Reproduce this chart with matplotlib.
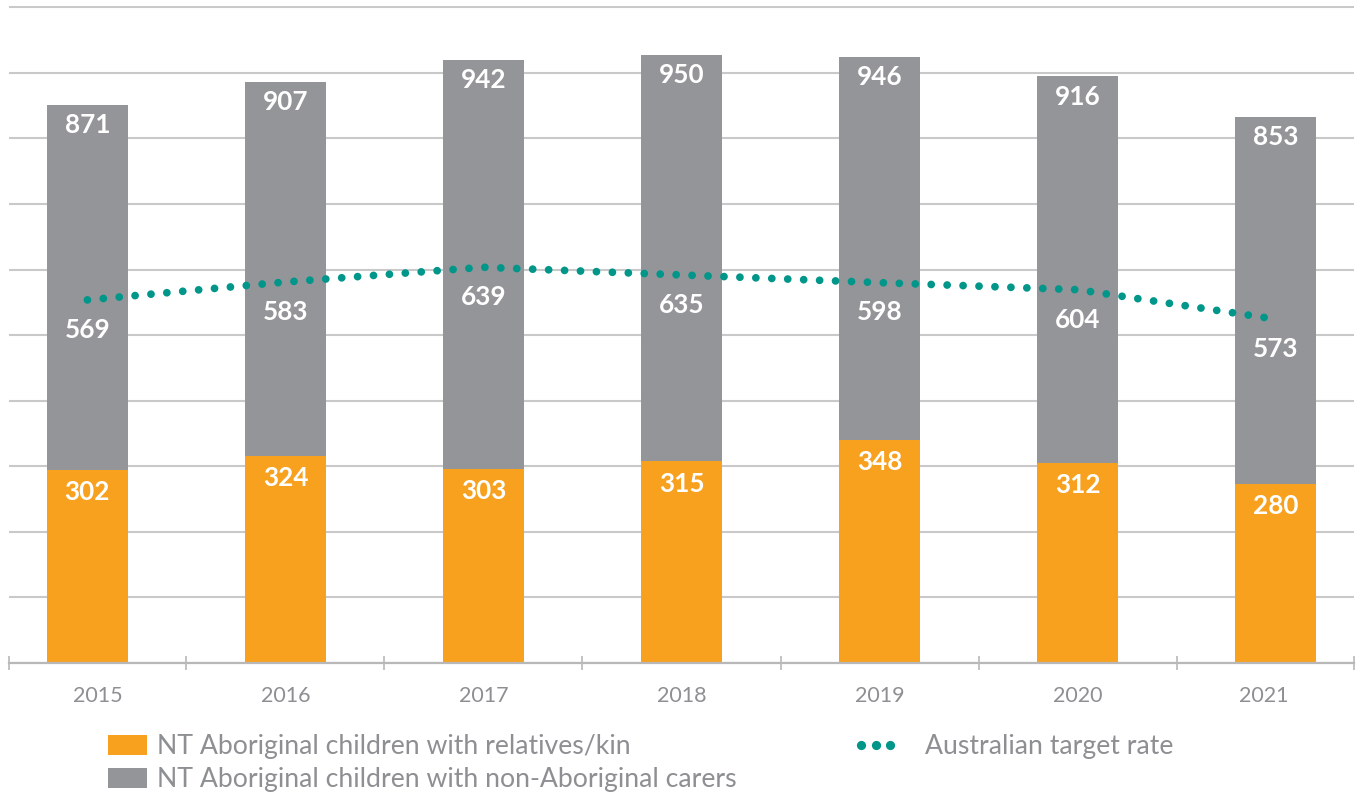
import matplotlib
matplotlib.use('Agg')
import matplotlib.pyplot as plt
from matplotlib.lines import Line2D
from matplotlib.patches import Patch
import numpy as np

# ---- data ----
years = ['2015', '2016', '2017', '2018', '2019', '2020', '2021']
kin = [302, 324, 303, 315, 348, 312, 280]
non_aboriginal = [569, 583, 639, 635, 598, 604, 573]
totals = [871, 907, 942, 950, 946, 916, 853]
target_rate = [567, 595, 618, 606, 594, 583, 537]

series_labels = ['NT Aboriginal children with relatives/kin',
                 'NT Aboriginal children with non-Aboriginal carers',
                 'Australian target rate']

# ---- style ----
ORANGE = '#f7a11f'
GRAY = '#949599'
TEAL = '#00968a'
TXT = '#8e8f92'
GRID = '#c9c9c9'

plt.rcParams['font.family'] = ['Lato', 'DejaVu Sans']

W, H = 1362, 794
fig = plt.figure(figsize=(W / 100, H / 100), dpi=100)
ax = fig.add_axes([9 / W, (H - 663) / H, (1354 - 9) / W, (663 - 6) / H])

x = np.arange(len(years))
bw = 0.41
ax.bar(x, kin, width=bw, color=ORANGE, zorder=2)
ax.bar(x, non_aboriginal, width=bw, bottom=kin, color=GRAY, zorder=2)
ax.plot(x, target_rate, color=TEAL, lw=5.6, linestyle=(0, (0.001, 2.05)),
        dash_capstyle='round', solid_capstyle='round', zorder=3)

lab_kw = dict(ha='center', va='center', color='white', fontsize=18.8,
              fontweight='bold', textcoords='offset points', zorder=4)
for i in range(len(years)):
    ax.annotate(str(totals[i]), (x[i], totals[i]), xytext=(0, -14.5), **lab_kw)
    ax.annotate(str(kin[i]), (x[i], kin[i]), xytext=(0, -16), **lab_kw)
    ax.annotate(str(non_aboriginal[i]), (x[i], target_rate[i]), xytext=(0, -21.5), **lab_kw)

xmin, xmax = -0.396, 6.396
ax.set_xlim(xmin, xmax)
ax.set_ylim(0, 1026)
ax.set_yticks(np.linspace(0, 1024, 11))
ax.yaxis.grid(True, color=GRID, lw=1.5)
ax.set_axisbelow(True)
ax.tick_params(axis='y', length=0, labelleft=False)

# category labels (edge labels nudged inwards as in the original)
ax.set_xticks(x)
ax.tick_params(axis='x', which='major', length=0, labelbottom=False)
nudges = {0: 7.2, len(years) - 1: -8.6}
for i, yr in enumerate(years):
    ax.annotate(yr, (x[i], 0), xycoords=('data', 'axes fraction'),
                xytext=(nudges.get(i, 0), -23.5), textcoords='offset points',
                ha='center', va='center', fontsize=15.5, color=TXT)

ax.set_xticks([xmin] + list(np.arange(0.5, 6, 1.0)) + [xmax], minor=True)
ax.tick_params(axis='x', which='minor', direction='inout', length=9.5, width=1.1, color='#b3b3b3')

for s in ['top', 'left', 'right']:
    ax.spines[s].set_visible(False)
ax.spines['bottom'].set_color('#b8b8b8')
ax.spines['bottom'].set_linewidth(1.6)

fs = 19.2
fpx = fs * 100 / 72
leg1 = fig.legend(handles=[Patch(fc=ORANGE), Patch(fc=GRAY)], labels=series_labels[:2],
                  loc='upper left', bbox_to_anchor=(108 / W, 1 - 734 / H),
                  frameon=False, borderpad=0, borderaxespad=0,
                  handlelength=39 / fpx, handleheight=21 / fpx, handletextpad=10 / fpx,
                  labelspacing=0.3, prop={'size': fs}, labelcolor=TXT)
leg2 = fig.legend(handles=[Line2D([], [], color=TEAL, marker='o', ls='none', markersize=5.6)],
                  labels=series_labels[2:], numpoints=3,
                  loc='upper left', bbox_to_anchor=(853 / W, 1 - 734 / H),
                  frameon=False, borderpad=0, borderaxespad=0,
                  handlelength=45 / fpx, handletextpad=27 / fpx,
                  prop={'size': fs}, labelcolor=TXT)

fig.savefig('out.png', dpi=100)
